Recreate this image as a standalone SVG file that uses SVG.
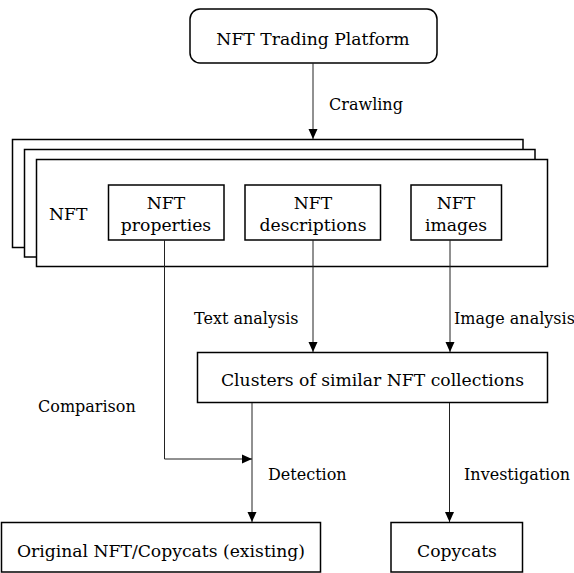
<svg xmlns="http://www.w3.org/2000/svg" width="574" height="573" viewBox="0 0 574 573">
<style>
.box{fill:#fff;stroke:#000;stroke-width:1.5}
.ln{fill:none;stroke:#222;stroke-width:1}
text{font-family:"DejaVu Serif","Liberation Serif",serif;font-size:17.2px;fill:#000}
.lbl{font-size:16px}
.c{text-anchor:middle}
</style>
<defs>
<marker id="ah" markerUnits="userSpaceOnUse" markerWidth="10" markerHeight="10" viewBox="0 0 10 10" refX="10" refY="5" orient="auto">
<path d="M0,0.5 L10,5 L0,9.5 Z" fill="#000"/>
</marker>
</defs>
<rect width="574" height="573" fill="#fff"/>
<g id="platform">
<rect class="box" x="190" y="9" width="247" height="54" rx="10"/>
<text class="c" x="313" y="45">NFT Trading Platform</text>
</g>
<g id="nft-stack">
<rect class="box" x="12.5" y="139.5" width="510.5" height="108"/>
<rect class="box" x="24.5" y="149.5" width="510.5" height="107.5"/>
<rect class="box" x="36.5" y="159.5" width="511" height="107"/>
<text x="49" y="220">NFT</text>
</g>
<g id="properties">
<rect class="box" x="108.5" y="185" width="115.5" height="55"/>
<text class="c" x="166" y="209">NFT</text>
<text class="c" x="166" y="231">properties</text>
</g>
<g id="descriptions">
<rect class="box" x="245" y="185" width="135.5" height="55"/>
<text class="c" x="313" y="209">NFT</text>
<text class="c" x="313" y="231">descriptions</text>
</g>
<g id="images">
<rect class="box" x="411" y="185" width="90.5" height="55"/>
<text class="c" x="456" y="209">NFT</text>
<text class="c" x="456" y="231">images</text>
</g>
<g id="clusters">
<rect class="box" x="197.5" y="352.5" width="350" height="50"/>
<text class="c" x="372.5" y="386">Clusters of similar NFT collections</text>
</g>
<g id="original">
<rect class="box" x="1.5" y="522.5" width="319" height="49.5"/>
<text class="c" x="161" y="557">Original NFT/Copycats (existing)</text>
</g>
<g id="copycats">
<rect class="box" x="391" y="522.5" width="131.5" height="49.5"/>
<text class="c" x="457" y="557">Copycats</text>
</g>
<g id="connectors">
<line class="ln" x1="313" y1="63" x2="313" y2="139" marker-end="url(#ah)"/>
<line class="ln" x1="313" y1="240" x2="313" y2="352" marker-end="url(#ah)"/>
<line class="ln" x1="450" y1="240" x2="450" y2="352" marker-end="url(#ah)"/>
<polyline class="ln" points="164.5,240 164.5,459 252,459" marker-end="url(#ah)"/>
<line class="ln" x1="252" y1="403" x2="252" y2="522" marker-end="url(#ah)"/>
<line class="ln" x1="449.5" y1="403" x2="449.5" y2="522" marker-end="url(#ah)"/>
</g>
<g id="labels">
<text class="lbl" x="329" y="110">Crawling</text>
<text class="lbl" x="194" y="324">Text analysis</text>
<text class="lbl" x="454" y="324">Image analysis</text>
<text class="lbl" x="38" y="412">Comparison</text>
<text class="lbl" x="268" y="480">Detection</text>
<text class="lbl" x="464" y="480">Investigation</text>
</g>
</svg>
